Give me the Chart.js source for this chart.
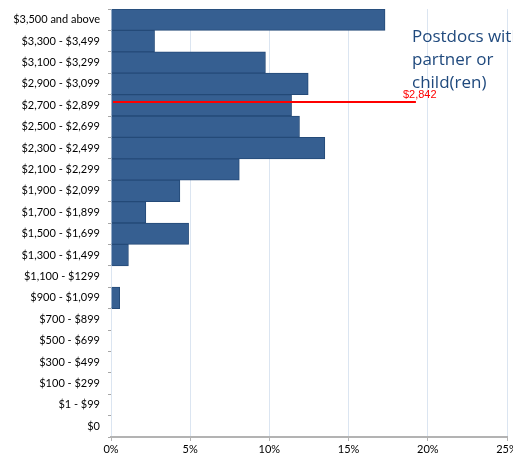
<!DOCTYPE html>
<html>
<head>
<meta charset="utf-8">
<script src="https://cdn.jsdelivr.net/npm/chart.js@4.4.1/dist/chart.umd.min.js"></script>
<style>
  html, body { margin: 0; padding: 0; background: #fff; }
  #wrap { width: 513px; height: 458px; }
</style>
</head>
<body>
<div id="wrap"><canvas id="chart"></canvas></div>
<script>
// salary brackets, top to bottom
let categories = ["$3,500 and above", "$3,300 - $3,499", "$3,100 - $3,299", "$2,900 - $3,099",
    "$2,700 - $2,899", "$2,500 - $2,699", "$2,300 - $2,499", "$2,100 - $2,299",
    "$1,900 - $2,099", "$1,700 - $1,899", "$1,500 - $1,699", "$1,300 - $1,499",
    "$1,100 - $1299", "$900 - $1,099", "$700 - $899", "$500 - $699",
    "$300 - $499", "$100 - $299", "$1 - $99", "$0"]
let shares = [17.3, 2.75, 9.75, 12.45, 11.4, 11.9, 13.5, 8.1, 4.35, 2.2, 4.9, 1.1, 0, 0.55, 0, 0, 0, 0, 0, 0]
let xTicks = [0, 5, 10, 15, 20, 25]

let median = 2842
let medianLabel = "$2,842"
let medianBracket = "$2,700 - $2,899"
let medianBracketLow = 2700
let medianBracketHigh = 2900
let medianLineEnd = 19.25
let titleLines = ["Postdocs with", "partner or", "child(ren)"]

const axisFont = {family: "Lato", size: 11}

const medianPlugin = {
    id: 'median',
    afterDatasetsDraw(chart) {
        let ctx = chart.ctx
        let x = chart.scales.x
        let y = chart.scales.y
        let idx = categories.indexOf(medianBracket)
        let frac = (median - medianBracketLow) / (medianBracketHigh - medianBracketLow)
        let py = Math.round(y.getPixelForValue(idx + 0.5 - frac)) + 1
        let x0 = x.getPixelForValue(0) + 2
        let x1 = x.getPixelForValue(medianLineEnd)
        ctx.save()
        ctx.strokeStyle = '#ff0000'
        ctx.lineWidth = 2
        ctx.beginPath()
        ctx.moveTo(x0, py)
        ctx.lineTo(x1, py)
        ctx.stroke()
        ctx.fillStyle = '#ff0000'
        ctx.font = '11px "Liberation Sans", Arial'
        ctx.textAlign = 'left'
        ctx.textBaseline = 'bottom'
        ctx.fillText(medianLabel, x1 - 13, py - 2)
        ctx.restore()
    },
    afterDraw(chart) {
        let ctx = chart.ctx
        ctx.save()
        ctx.fillStyle = '#1f497d'
        ctx.font = '17px "Open Sans"'
        ctx.textAlign = 'left'
        ctx.textBaseline = 'alphabetic'
        titleLines.forEach(function (line, i) {
            ctx.fillText(line, 412, 42 + i * 23)
        })
        ctx.restore()
    }
}

new Chart("chart", {
    type: "bar",
    data: {
        labels: categories,
        datasets: [{
            data: shares,
            backgroundColor: "#365f91",
            borderColor: "#244a78",
            borderWidth: 1,
            barPercentage: 1,
            categoryPercentage: 1
        }]
    },
    options: {
        indexAxis: 'y',
        responsive: true,
        maintainAspectRatio: false,
        animation: false,
        layout: {padding: {top: 9, left: 0, right: 6, bottom: 0}},
        plugins: {
            legend: {display: false},
            tooltip: {enabled: false}
        },
        scales: {
            x: {
                min: 0,
                max: 25,
                afterBuildTicks: function (scale) {
                    scale.ticks = xTicks.map(v => ({value: v}))
                },
                afterFit: function (scale) {
                    scale.height = 21
                    scale.paddingRight = 0
                    scale.paddingLeft = 0
                },
                border: {display: true, color: '#b3b3b3', width: 2},
                grid: {color: '#dbe5f1', tickColor: '#b3b3b3', tickLength: 4, lineWidth: 1},
                ticks: {
                    font: axisFont,
                    color: '#000',
                    padding: 2,
                    maxRotation: 0,
                    callback: v => v + '%'
                }
            },
            y: {
                afterFit: function (scale) {
                    scale.width = 111
                    scale.paddingTop = 0
                    scale.paddingBottom = 0
                },
                border: {display: false},
                grid: {offset: true, drawOnChartArea: false, tickColor: '#a6a6a6', tickLength: 3},
                ticks: {font: axisFont, color: '#000', padding: 8}
            }
        }
    },
    plugins: [medianPlugin]
});
</script>
</body>
</html>
